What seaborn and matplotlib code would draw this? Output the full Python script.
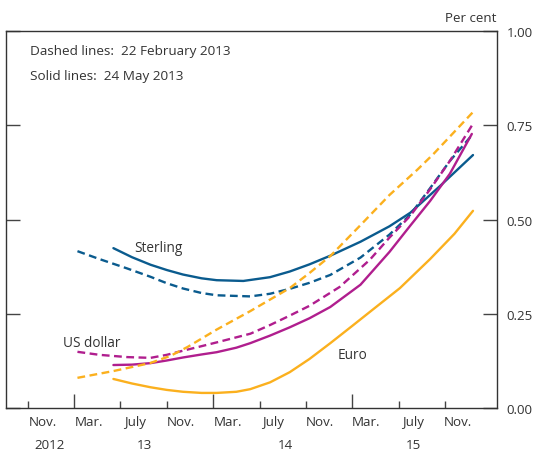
import matplotlib
matplotlib.use("Agg")
import matplotlib.pyplot as plt
import seaborn as sns
import pandas as pd

# x = months since 1 January 2013, y = per cent
sterling_solid_x = [3.4, 5.0, 6.6, 8.0, 9.4, 11.0, 12.3, 14.6, 16.9, 18.6, 20.3, 22.1, 24.7, 27.2, 29.0, 31.6, 34.4]
sterling_solid_y = [0.424, 0.400, 0.380, 0.366, 0.354, 0.344, 0.339, 0.337, 0.347, 0.362, 0.381, 0.404, 0.441, 0.482, 0.518, 0.590, 0.671]

sterling_dashed_x = [0.3, 2.2, 4.6, 6.6, 8.0, 9.4, 11.0, 12.3, 15.2, 16.9, 18.6, 20.3, 22.1, 24.7, 27.2, 29.0, 30.7, 32.4, 34.4]
sterling_dashed_y = [0.416, 0.395, 0.370, 0.348, 0.331, 0.317, 0.305, 0.299, 0.296, 0.303, 0.316, 0.332, 0.353, 0.399, 0.460, 0.513, 0.583, 0.655, 0.727]

usd_solid_x = [3.4, 5.0, 6.6, 8.0, 9.4, 11.0, 12.3, 14.0, 15.2, 16.9, 18.6, 20.3, 22.1, 24.7, 27.2, 29.0, 30.7, 32.4, 34.3]
usd_solid_y = [0.114, 0.115, 0.119, 0.126, 0.134, 0.142, 0.148, 0.160, 0.172, 0.192, 0.214, 0.238, 0.268, 0.327, 0.414, 0.484, 0.549, 0.621, 0.727]

usd_dashed_x = [0.3, 2.2, 4.6, 6.6, 8.0, 9.4, 11.0, 12.3, 15.2, 16.9, 18.6, 20.3, 22.9, 25.5, 27.2, 29.0, 30.7, 32.4, 34.3]
usd_dashed_y = [0.149, 0.141, 0.135, 0.133, 0.141, 0.152, 0.164, 0.174, 0.197, 0.220, 0.245, 0.271, 0.321, 0.393, 0.452, 0.510, 0.580, 0.655, 0.749]

euro_solid_x = [3.4, 5.0, 6.6, 8.0, 9.4, 11.0, 12.3, 14.0, 15.2, 16.9, 18.6, 20.3, 22.1, 24.0, 25.8, 28.1, 30.7, 32.8, 34.4]
euro_solid_y = [0.077, 0.065, 0.055, 0.048, 0.043, 0.040, 0.040, 0.043, 0.050, 0.068, 0.095, 0.130, 0.172, 0.218, 0.262, 0.318, 0.395, 0.462, 0.523]

euro_dashed_x = [0.3, 3.4, 6.55, 8.3, 9.8, 12.3, 15.2, 18.6, 20.3, 22.1, 24.7, 27.2, 29.6, 31.0, 34.4]
euro_dashed_y = [0.080, 0.098, 0.119, 0.138, 0.162, 0.208, 0.257, 0.318, 0.358, 0.403, 0.485, 0.565, 0.632, 0.674, 0.785]

y_ticks = [0.0, 0.25, 0.5, 0.75, 1.0]
y_tick_labels = ["0.00", "0.25", "0.50", "0.75", "1.00"]
month_labels = ["Nov.", "Mar.", "July", "Nov.", "Mar.", "July", "Nov.", "Mar.", "July", "Nov."]
month_label_x = [-2.7, 1.3, 5.3, 9.2, 13.3, 17.2, 21.2, 25.2, 29.2, 33.1]
year_labels = ["2012", "13", "14", "15"]
year_label_x = [-2.1, 6.1, 18.2, 29.3]
year_ticks = [0, 12, 24]
minor_ticks = [-4, 4, 8, 16, 20, 28, 32]

rows = []
for cur, curve, xs, ys in [
    ("Sterling", "Solid", sterling_solid_x, sterling_solid_y),
    ("Sterling", "Dashed", sterling_dashed_x, sterling_dashed_y),
    ("US dollar", "Solid", usd_solid_x, usd_solid_y),
    ("US dollar", "Dashed", usd_dashed_x, usd_dashed_y),
    ("Euro", "Solid", euro_solid_x, euro_solid_y),
    ("Euro", "Dashed", euro_dashed_x, euro_dashed_y),
]:
    for x, y in zip(xs, ys):
        rows.append({"currency": cur, "curve": curve, "month": x, "rate": y})
df = pd.DataFrame(rows)

sns.set_theme(style="white")
plt.rcParams["font.family"] = ["Open Sans", "DejaVu Sans"]
plt.rcParams["lines.solid_capstyle"] = "round"
text_color = "#333333"

fig = plt.figure(figsize=(5.35, 4.52), dpi=100)
ax = fig.add_axes([6 / 535, 1 - 409 / 452, 491 / 535, 377 / 452])

palette = {"Sterling": "#0A5B8E", "US dollar": "#B01E8E", "Euro": "#FBB01E"}
sns.lineplot(data=df, x="month", y="rate", hue="currency", style="curve",
             palette=palette, dashes={"Solid": "", "Dashed": (3.3, 1.9)},
             linewidth=1.7, legend=False, errorbar=None, sort=True, ax=ax)
for ln in ax.get_lines():
    ln.set_solid_joinstyle("round")

ax.set_xlim(-5.86, 36.47)
ax.set_ylim(0, 1.0)
ax.set_xlabel("")
ax.set_ylabel("")

for s in ax.spines.values():
    s.set_color(text_color)
    s.set_linewidth(1.0)

ax.set_yticks(y_ticks)
ax.set_yticklabels(y_tick_labels)
ax.tick_params(axis="y", left=True, right=True, labelleft=False, labelright=True,
               direction="in", length=10, width=1.0, color="#444444", pad=7,
               labelsize=9.6, labelcolor=text_color)

ax.set_xticks(year_ticks)
ax.set_xticks(minor_ticks, minor=True)
ax.set_xticklabels([])
ax.tick_params(axis="x", which="major", bottom=True, direction="in", length=10,
               width=1.0, color="#444444")
ax.tick_params(axis="x", which="minor", bottom=True, direction="in", length=5,
               width=1.0, color="#444444")

xt = ax.get_xaxis_transform()
for lbl, x in zip(month_labels, month_label_x):
    ax.text(x, -0.036, lbl, transform=xt, ha="center", va="center",
            fontsize=9.6, color=text_color, clip_on=False)
for lbl, x in zip(year_labels, year_label_x):
    ax.text(x, -0.098, lbl, transform=xt, ha="center", va="center",
            fontsize=9.6, color=text_color, clip_on=False)

ax.text(0.998, 1.037, "Per cent", transform=ax.transAxes, ha="right", va="center",
        fontsize=9.6, color=text_color, clip_on=False)
ax.text(0.049, 0.947, "Dashed lines:  22 February 2013", transform=ax.transAxes,
        ha="left", va="center", fontsize=9.7, color=text_color)
ax.text(0.049, 0.883, "Solid lines:  24 May 2013", transform=ax.transAxes,
        ha="left", va="center", fontsize=9.7, color=text_color)

ax.text(7.3, 0.427, "Sterling", ha="center", va="center", fontsize=9.8, color=text_color)
ax.text(1.55, 0.175, "US dollar", ha="center", va="center", fontsize=9.8, color=text_color)
ax.text(24.05, 0.143, "Euro", ha="center", va="center", fontsize=9.8, color=text_color)

fig.savefig("out.png", dpi=100)
